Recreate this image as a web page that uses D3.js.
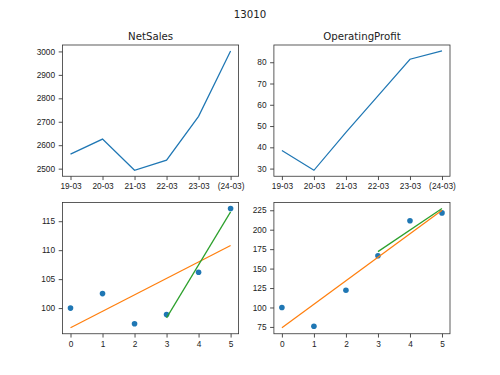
<!DOCTYPE html>
<html>
<head>
<meta charset="utf-8" />
<title>13010</title>
<script src="https://cdnjs.cloudflare.com/ajax/libs/d3/7.8.5/d3.min.js"></script>
<style>
  body { margin: 0; background: #fff; }
  svg { font-family: "DejaVu Sans", sans-serif; }
  .tick text { font-size: 8.3px; fill: #222; }
</style>
</head>
<body>
<svg width="500" height="375"></svg>
<script>
  // data
  let periods = ['19-03', '20-03', '21-03', '22-03', '23-03', '(24-03)']
  let netSales = [2562, 2626, 2493, 2536, 2723, 3002]
  let opProfit = [38.5, 29.2, 47.0, 64.2, 81.4, 85.3]

  let idx = [0, 1, 2, 3, 4, 5]
  let salesIdx = [100, 102.5, 97.3, 98.9, 106.2, 117.2]
  let profitIdx = [100, 75.8, 122.1, 166.5, 211.5, 221.6]

  // fitted lines, endpoints [x, y]
  let salesFitAll = [[0, 96.6], [5, 110.8]]
  let salesFitLast = [[3, 98.3], [5, 116.6]]
  let profitFitAll = [[0, 73.9], [5, 224.9]]
  let profitFitLast = [[3, 171.8], [5, 227.3]]

  let salesTicks = [2500, 2600, 2700, 2800, 2900, 3000]
  let profitTicks = [30, 40, 50, 60, 70, 80]
  let salesIdxTicks = [100, 105, 110, 115]
  let profitIdxTicks = [75, 100, 125, 150, 175, 200, 225]

  let blue = '#1f77b4', orange = '#ff7f0e', green = '#2ca02c'
  let svg = d3.select('svg')

  svg.append('text').attr('x', 250).attr('y', 18).attr('text-anchor', 'middle')
    .style('font-size', '10.2px').attr('fill', '#222').text('13010')

  // matplotlib-like padded domain
  function pad(ext) {
    let d = (ext[1] - ext[0]) * 0.05
    return [ext[0] - d, ext[1] + d]
  }

  function panel(x0, y0, w, h, title) {
    let g = svg.append('g').attr('transform', 'translate(' + x0 + ',' + y0 + ')')
    if (title) {
      g.append('text').attr('x', w / 2).attr('y', -5).attr('text-anchor', 'middle')
        .style('font-size', '10.2px').attr('fill', '#222').text(title)
    }
    return g
  }

  function axes(g, w, h, xScale, yScale, yTicks, xFormat) {
    let xAxis = d3.axisBottom(xScale).tickValues(idx).tickSize(3.8).tickPadding(3.4).tickSizeOuter(0)
    xAxis.tickFormat(xFormat || d3.format('d'))
    g.append('g').attr('transform', 'translate(0,' + h + ')').call(xAxis)
    g.append('g').call(d3.axisLeft(yScale).tickValues(yTicks).tickFormat(d3.format('d'))
      .tickSize(3.8).tickPadding(3.6).tickSizeOuter(0))
    g.selectAll('.domain').remove()
    g.selectAll('.tick line').attr('stroke', '#222').attr('stroke-width', 0.8)
    g.append('rect').attr('width', w).attr('height', h).attr('fill', 'none')
      .attr('stroke', '#333').attr('stroke-width', 0.8)
  }

  let W = 176.1, H = 131.25
  let cols = [62.5, 273.9], rows = [45, 202.5]

  function linePanel(col, title, values, yTicks) {
    let g = panel(cols[col], rows[0], W, H, title)
    let x = d3.scaleLinear().domain(pad([0, 5])).range([0, W])
    let y = d3.scaleLinear().domain(pad(d3.extent(values))).range([H, 0])
    axes(g, W, H, x, y, yTicks, function(i) { return periods[i] })
    g.append('path').datum(values).attr('fill', 'none').attr('stroke', blue).attr('stroke-width', 1.25)
      .attr('d', d3.line().x(function(d, i) { return x(i) }).y(function(d) { return y(d) }))
  }

  function fitPanel(col, values, fitAll, fitLast, yTicks) {
    let g = panel(cols[col], rows[1], W, H)
    let all = values.concat(fitAll.map(function(p) { return p[1] }), fitLast.map(function(p) { return p[1] }))
    let x = d3.scaleLinear().domain(pad([0, 5])).range([0, W])
    let y = d3.scaleLinear().domain(pad(d3.extent(all))).range([H, 0])
    axes(g, W, H, x, y, yTicks)
    let line = d3.line().x(function(d) { return x(d[0]) }).y(function(d) { return y(d[1]) })
    g.selectAll('circle').data(values).enter().append('circle')
      .attr('cx', function(d, i) { return x(idx[i]) }).attr('cy', function(d) { return y(d) })
      .attr('r', 2.8).attr('fill', blue)
    g.append('path').datum(fitAll).attr('fill', 'none').attr('stroke', orange).attr('stroke-width', 1.25).attr('d', line)
    g.append('path').datum(fitLast).attr('fill', 'none').attr('stroke', green).attr('stroke-width', 1.25).attr('d', line)
  }

  linePanel(0, 'NetSales', netSales, salesTicks)
  linePanel(1, 'OperatingProfit', opProfit, profitTicks)
  fitPanel(0, salesIdx, salesFitAll, salesFitLast, salesIdxTicks)
  fitPanel(1, profitIdx, profitFitAll, profitFitLast, profitIdxTicks)
</script>
</body>
</html>
